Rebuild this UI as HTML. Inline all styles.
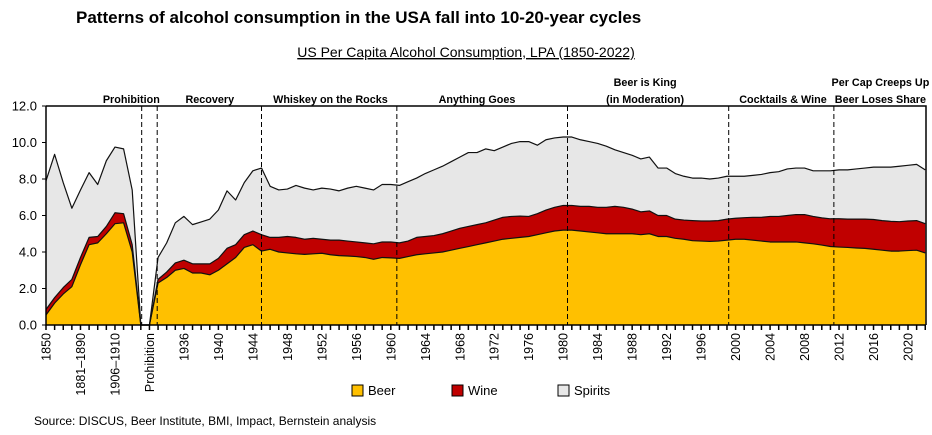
<!DOCTYPE html>
<html><head><meta charset="utf-8"><style>
body{margin:0;background:#fff;width:932px;height:430px;overflow:hidden;font-family:"Liberation Sans",Arial,sans-serif}
svg text{font-family:"Liberation Sans",Arial,sans-serif}
</style></head><body>
<svg id="chart" width="932" height="430" viewBox="0 0 932 430" xmlns="http://www.w3.org/2000/svg">
<text x="76" y="23" font-size="17" font-weight="bold">Patterns of alcohol consumption in the USA fall into 10-20-year cycles</text>
<text x="466" y="57" font-size="14" text-anchor="middle" text-decoration="underline">US Per Capita Alcohol Consumption, LPA (1850-2022)</text>
<g id="plot"></g>
<g>
<rect x="352" y="385" width="11" height="11" fill="#ffc000" stroke="#000"/>
<text x="368" y="395" font-size="13">Beer</text>
<rect x="452" y="385" width="11" height="11" fill="#c00000" stroke="#000"/>
<text x="468" y="395" font-size="13">Wine</text>
<rect x="558" y="385" width="11" height="11" fill="#e8e8e8" stroke="#000"/>
<text x="574" y="395" font-size="13">Spirits</text>
</g>
<text x="34" y="425" font-size="12">Source: DISCUS, Beer Institute, BMI, Impact, Bernstein analysis</text>
</svg>
<script>
const categories = ["1850","","","","1881–1890","","","","1906–1910","","","","Prohibition"].concat(Array.from({length:90},(_,k)=>{const y=1933+k;return (y%4===0)?String(y):"";}));
const beer = [.55,1.2,1.7,2.1,3.3,4.4,4.5,5.0,5.55,5.6,4.0,0,0,2.3,2.6,3.0,3.1,2.85,2.85,2.75,3.0,3.35,3.7,4.25,4.4,4.05,4.15,4.0,3.95,3.9,3.87,3.9,3.93,3.85,3.8,3.78,3.75,3.7,3.6,3.7,3.68,3.65,3.75,3.85,3.9,3.95,4.0,4.1,4.2,4.3,4.4,4.5,4.6,4.7,4.75,4.8,4.85,4.95,5.05,5.15,5.2,5.2,5.15,5.1,5.05,5.0,5.0,5.0,5.0,4.95,5.0,4.85,4.85,4.75,4.7,4.62,4.6,4.58,4.6,4.65,4.7,4.7,4.65,4.6,4.55,4.55,4.55,4.55,4.5,4.45,4.38,4.3,4.27,4.25,4.22,4.2,4.15,4.1,4.05,4.05,4.08,4.1,3.95];
const wine = [.3,.3,.35,.4,.4,.4,.35,.4,.6,.5,.4,0,0,.2,.3,.4,.45,.5,.5,.6,.65,.85,.7,.7,.75,.9,.65,.8,.9,.9,.83,.85,.77,.8,.85,.82,.8,.8,.85,.85,.87,.85,.85,.95,.95,.95,1.0,1.05,1.1,1.1,1.1,1.1,1.15,1.2,1.2,1.17,1.1,1.15,1.25,1.3,1.35,1.35,1.35,1.4,1.4,1.45,1.5,1.45,1.35,1.25,1.25,1.15,1.15,1.05,1.05,1.1,1.1,1.12,1.12,1.15,1.15,1.18,1.25,1.3,1.4,1.4,1.45,1.5,1.55,1.5,1.49,1.52,1.55,1.55,1.58,1.6,1.63,1.62,1.63,1.61,1.62,1.62,1.6];
const spirits = [7.05,7.85,5.75,3.9,3.7,3.55,2.85,3.6,3.6,3.55,3.0,0,0,1.2,1.6,2.2,2.4,2.15,2.3,2.45,2.65,3.15,2.45,2.85,3.3,3.65,2.8,2.6,2.6,2.85,2.8,2.65,2.8,2.8,2.7,2.9,3.05,3.0,2.95,3.15,3.15,3.15,3.25,3.25,3.45,3.6,3.7,3.8,3.9,4.05,3.95,4.05,3.8,3.85,4.0,4.08,4.1,3.75,3.85,3.8,3.75,3.75,3.65,3.55,3.5,3.35,3.1,3.0,2.95,2.9,2.95,2.6,2.6,2.5,2.4,2.33,2.35,2.3,2.33,2.35,2.3,2.27,2.3,2.35,2.4,2.45,2.55,2.55,2.55,2.5,2.58,2.63,2.68,2.7,2.75,2.8,2.87,2.93,2.97,3.04,3.05,3.08,2.95];
const yTicks = [0,2,4,6,8,10,12];
const dividerPositions = [11.1,12.9,25,40.7,60.5,79.2,91.4];
const eraLabels = [["Prohibition"],["Recovery"],["Whiskey on the Rocks"],["Anything Goes"],["Beer is King","(in Moderation)"],["Cocktails & Wine"],["Per Cap Creeps Up","Beer Loses Share"]];
const eraCenters = [9.9,19,33,50,69.5,85.5,96.8];

const L=46,R=926,T=106,B=325,step=8.62,yMax=12;
const x=i=>L+i*step;
const y=v=>B-(v/yMax)*(B-T);
const NS="http://www.w3.org/2000/svg";
const plot=document.getElementById('plot');
function mk(tag,attrs,parent){const e=document.createElementNS(NS,tag);for(const k in attrs)e.setAttribute(k,attrs[k]);(parent||plot).appendChild(e);return e;}

const n=beer.length;
const c1=beer.slice(), c2=beer.map((b,i)=>b+wine[i]), c3=c2.map((b,i)=>b+spirits[i]);
function area(top,bot){let d="M"+x(0)+","+y(top[0]);for(let i=1;i<n;i++)d+="L"+x(i)+","+y(top[i]);for(let i=n-1;i>=0;i--)d+="L"+x(i)+","+y(bot?bot[i]:0);return d+"Z";}
function line(arr){let d="";for(let i=0;i<n;i++)d+=(i?"L":"M")+x(i)+","+y(arr[i]);return d;}
const zero=new Array(n).fill(0);
let e;
e=mk('path',{d:area(c3,c2),fill:'#e7e7e7'});


e=mk('path',{d:area(c2,c1),fill:'#c00000'});


e=mk('path',{d:area(c1,zero),fill:'#ffc000'});


[c1,c2,c3].forEach((arr,k)=>{
  e=mk('path',{d:line(arr),fill:'none',stroke:'#111','stroke-width':1.2,'stroke-linejoin':'round'});
  
  
});
e=mk('path',{d:`M${L},${T}H${R}V${B}M${L},${T}V${B}H${R}`,fill:'none',stroke:'#000','stroke-width':1.5});


yTicks.forEach(v=>{
  e=mk('text',{x:L-9,y:y(v)+4.5,'font-size':13,'text-anchor':'end'});
  e.textContent=v.toFixed(1);
  
  
  mk('line',{x1:L-4,x2:L,y1:y(v),y2:y(v),stroke:'#000'});
});
for(let i=0;i<n;i++){
  e=mk('line',{x1:x(i),x2:x(i),y1:B,y2:B+5,stroke:'#000','stroke-width':1.5});
  
  
  if(categories[i]){
    e=mk('text',{x:0,y:0,'font-size':12.5,'text-anchor':'end',transform:`translate(${x(i)+4.5},${B+8}) rotate(-90)`});
    e.textContent=categories[i];
    
    
  }
}
dividerPositions.forEach(p=>{
  e=mk('line',{x1:x(p),x2:x(p),y1:T,y2:B,stroke:'#000','stroke-width':1,'stroke-dasharray':'5,3'});
  
  
});
eraLabels.forEach((lines,k)=>{
  lines.forEach((t,j)=>{
    const yy = lines.length===2 ? 86+j*17 : 103;
    e=mk('text',{x:x(eraCenters[k]),y:yy,'font-size':10.8,'font-weight':'bold','text-anchor':'middle'});
    e.textContent=t;
    
    
  });
});
</script>
</body></html>
